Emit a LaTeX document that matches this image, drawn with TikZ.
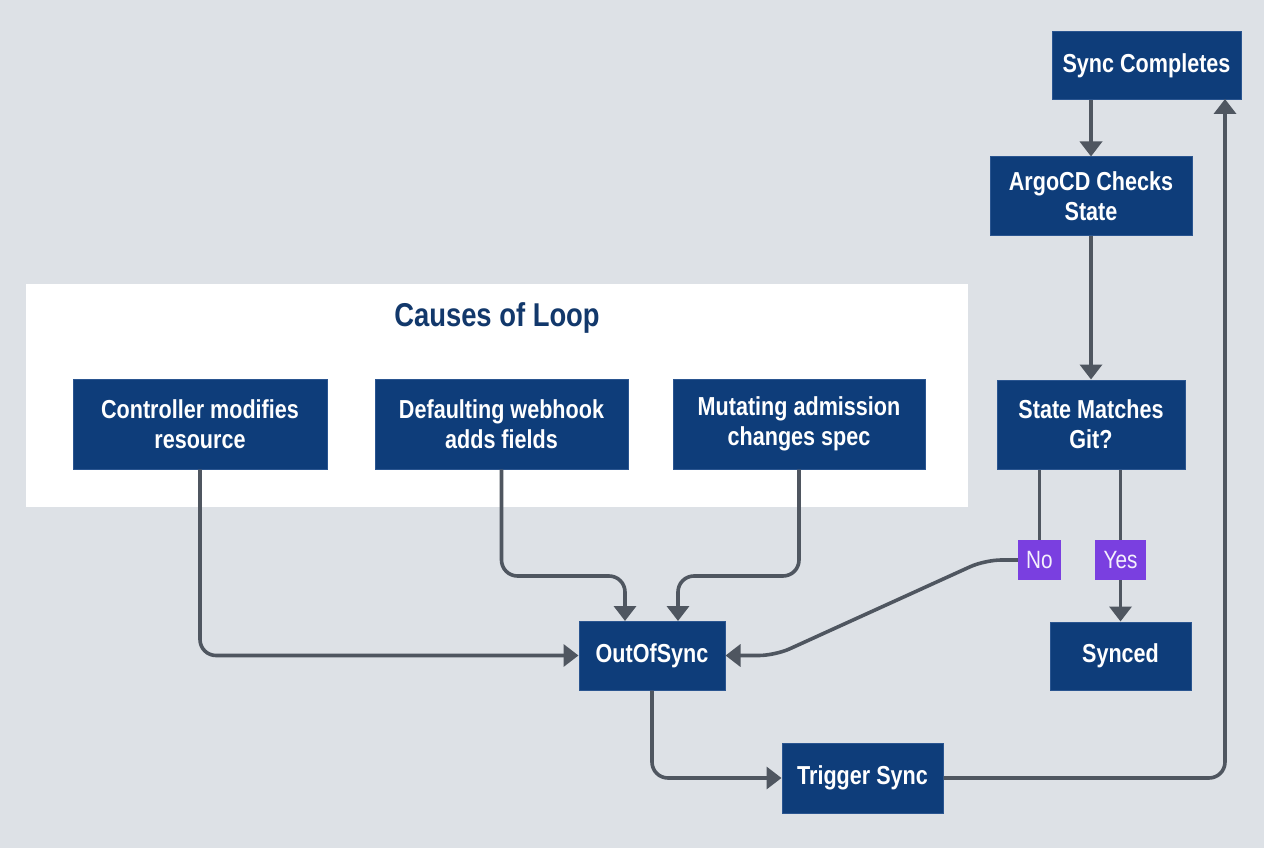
\documentclass[tikz,border=0pt]{standalone}
\usepackage{fontspec}
\setmainfont{Liberation Sans}[FakeStretch=0.83]
\usetikzlibrary{arrows.meta,calc}
\definecolor{bgc}{HTML}{DDE1E6}
\definecolor{navy}{HTML}{0E3D7A}
\definecolor{navyb}{HTML}{2A5590}
\definecolor{conc}{HTML}{4F5660}
\definecolor{purp}{HTML}{7A3FE0}
\definecolor{titc}{HTML}{12386B}
\begin{document}
\begin{tikzpicture}[x=1pt,y=-1pt,
  box/.style={draw=navyb,line width=1pt,fill=navy,text=white,font=\fontsize{26}{30}\selectfont\bfseries,align=center,inner sep=0pt},
  lab/.style={fill=purp,text=white!92!purp,font=\fontsize{25}{26}\selectfont,inner sep=0pt,minimum height=40,align=center},
  conn/.style={draw=conc,line width=3.6pt,rounded corners=16pt},
  arr/.style={conn,-{Triangle[width=22pt,length=15pt]}}]
\fill[bgc] (0,0) rectangle (1264,848);
\useasboundingbox (0,0) rectangle (1264,848);
\fill[white] (26,284) rectangle (968,507);
\node[text=titc,font=\fontsize{33}{36}\selectfont\bfseries] (title) at (497,318) {Causes of Loop};
\node[box,minimum width=189,minimum height=68] (sc) at (1146.5,66) {Sync Completes};
\node[box,minimum width=202,minimum height=78] (argo) at (1091,196) {ArgoCD Checks\\State};
\node[box,minimum width=188,minimum height=89] (match) at (1091,424.5) {State Matches\\Git?};
\node[box,minimum width=141,minimum height=68] (synced) at (1120.5,656) {Synced};
\node[box,minimum width=146,minimum height=69] (oos) at (652,655.5) {OutOfSync};
\node[box,minimum width=161,minimum height=70] (trig) at (862.5,778) {Trigger Sync};
\node[box,minimum width=254,minimum height=90] (ctrl) at (200,424) {Controller modifies\\resource};
\node[box,minimum width=253,minimum height=90] (def) at (501.5,424) {Defaulting webhook\\adds fields};
\node[box,minimum width=252,minimum height=90] (mut) at (799,424) {Mutating admission\\changes spec};
\node[lab,minimum width=43] (no) at (1039.5,560) {No};
\node[lab,minimum width=51] (yes) at (1120.5,560) {Yes};
% connectors
\draw[arr] (sc.south -| argo.north) -- (argo.north);
\draw[arr] (argo.south) -- (match.north);
\draw[conn] (no.north |- match.south) -- (no.north);
\draw[conn] (yes.north |- match.south) -- (yes.north);
\draw[arr] (yes.south) -- (synced.north);
\draw[arr] (no.west) -- (985,560) -- (775,655.5) -- (oos.east);
\draw[arr] (ctrl.south) -- (200,655.5) -- (oos.west);
\draw[arr] (def.south) -- (501.5,576) -- (625,576) -- (625,621);
\draw[arr] (mut.south) -- (799,576) -- (678,576) -- (678,621);
\draw[arr] (oos.south) -- (652,778) -- (trig.west);
\draw[arr] (trig.east) -- (1225,778) -- (1225,99);
\end{tikzpicture}
\end{document}
